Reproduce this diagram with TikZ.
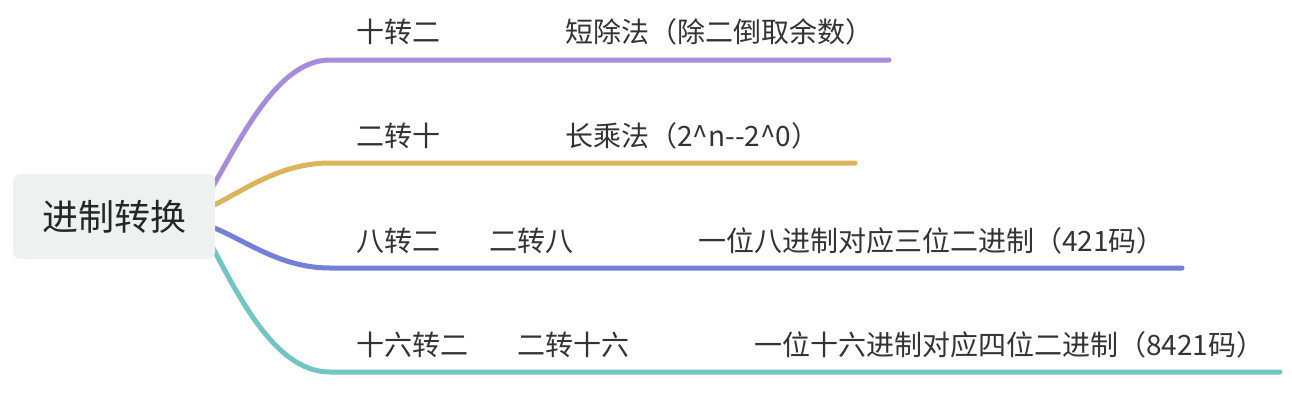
\documentclass[tikz,border=0pt]{standalone}
\usepackage{fontspec}
\setmainfont{Noto Sans CJK SC}
\begin{document}
\begin{tikzpicture}[x=1pt,y=-1pt,
  lbl/.style={anchor=west,inner sep=0pt,font=\fontsize{28}{32}\selectfont,text=black!80},
  branch/.style={line width=5pt,line cap=round}]
\definecolor{cpurple}{HTML}{A88BDB}
\definecolor{cgold}{HTML}{DCB55B}
\definecolor{cblue}{HTML}{7280D8}
\definecolor{cteal}{HTML}{72C5C3}
\definecolor{rootfill}{HTML}{EFF0F0}
\useasboundingbox (0,0) rectangle (1292,416);
% branches
\coordinate (p0) at (212,188);
\coordinate (p1) at (330,60);
\coordinate (p1e) at (889,60);
\coordinate (g0) at (212,206);
\coordinate (g1) at (330,163);
\coordinate (g1e) at (855,163);
\coordinate (b0) at (212,227);
\coordinate (b1) at (330,268);
\coordinate (b1e) at (1182,268);
\coordinate (t0) at (212,246);
\coordinate (t1) at (330,372);
\coordinate (t1e) at (1280,372);
\draw[branch,cpurple] (p0) .. controls (245,130) and (280,60) .. (p1) -- (p1e);
\draw[branch,cgold] (g0) .. controls (245,190) and (280,163) .. (g1) -- (g1e);
\draw[branch,cblue] (b0) .. controls (245,240) and (280,268) .. (b1) -- (b1e);
\draw[branch,cteal] (t0) .. controls (245,310) and (280,372) .. (t1) -- (t1e);
% root
\node[fill=rootfill,rounded corners=7pt,minimum width=202pt,minimum height=85pt,inner sep=0pt,
  font=\fontsize{36}{40}\selectfont,text=black!85] (root) at (114,216.5) {进制转换};
% labels
\node[lbl] (a1) at (356,32) {十转二};
\node[lbl] (a2) at (565,32) {短除法（除二倒取余数）};
\node[lbl] (b1t) at (356,136) {二转十};
\node[lbl] (b2t) at (565,136) {长乘法（2\^{}n-{}-2\^{}0）};
\node[lbl] (c1) at (356,241) {八转二};
\node[lbl] (c2) at (489,241) {二转八};
\node[lbl] (c3) at (698,241) {一位八进制对应三位二进制（421码）};
\node[lbl] (d1) at (356,345) {十六转二};
\node[lbl] (d2) at (517,345) {二转十六};
\node[lbl] (d3) at (754,345) {一位十六进制对应四位二进制（8421码）};
\end{tikzpicture}
\end{document}
